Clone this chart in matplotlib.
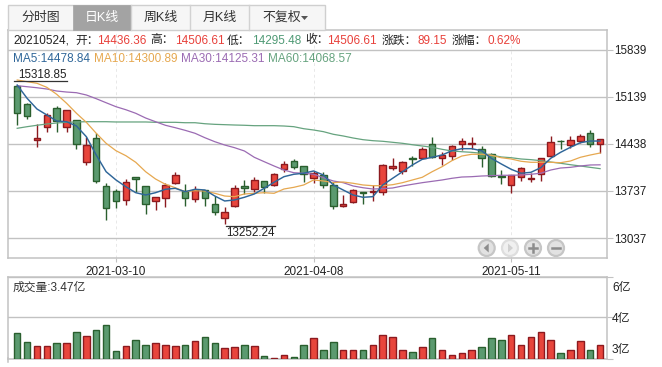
import matplotlib
matplotlib.use("Agg")
import matplotlib.pyplot as plt
from matplotlib.patches import Circle, Rectangle, Polygon

plt.rcParams['font.family'] = ['Liberation Sans', 'Noto Sans CJK SC', 'DejaVu Sans']

opens = [15297,15025,14499,14683,14965,14683,14787,14163,14519,13806,13732,13598,13940,13806,13583,13628,
         13860,13741,13613,13756,13539,13331,13509,13806,13762,13880,13821,14059,14178,14103,13925,13970,
         13821,13509,13568,13717,13726,13717,14074,14029,14222,14222,14430,14222,14252,14430,14439,14356,
         14282,13955,13821,13940,13919,13984,14252,14484,14415,14475,14594,14436.36]
closes = [14891,14846,14524,14861,14777,14936,14430,14415,13881,13479,13583,13866,13910,13539,13643,13821,
          13970,13628,13756,13628,13420,13420,13776,13776,13895,13791,13984,14133,14089,13989,14000,13821,
          13509,13539,13747,13702,13732,14118,14103,14163,14216,14356,14237,14267,14401,14475,14445,14222,
          13955,13940,13970,14074,13925,14222,14460,14479,14490,14549,14430,14506.61]
highs = [15318.85,15044,14727,14900,15000,14940,14791,14534,14594,13851,13762,13910,13940,13806,13652,13851,
         14014,13836,13815,13756,13658,13494,13821,13895,13940,13880,13999,14178,14207,14103,14038,14014,
         13866,13672,13762,13717,13821,14133,14222,14178,14252,14386,14534,14311,14415,14519,14534,14401,
         14297,14044,13975,14088,13999,14222,14549,14494,14549,14579,14638,14506.61]
lows = [14713,14802,14395,14618,14618,14618,14365,14123,13860,13301,13479,13533,13717,13390,13450,13494,
        13836,13518,13568,13509,13384,13252.24,13494,13687,13717,13702,13806,14014,14059,13866,13851,13776,
        13464,13494,13554,13539,13583,13672,14044,13984,14103,14207,14222,14118,14192,14341,14356,14088,
        13940,13836,13702,13880,13866,13880,14237,14356,14371,14445,14386,14295.48]
volumes = [3.61,3.39,3.30,3.30,3.37,3.37,3.63,3.54,3.68,3.82,3.18,3.30,3.44,3.34,3.37,3.32,3.30,3.34,3.42,3.51,3.37,
           3.25,3.27,3.32,3.30,3.06,3.01,3.10,3.03,3.34,3.49,3.20,3.39,3.20,3.20,3.22,3.34,3.58,3.51,3.22,3.15,3.27,3.49,
           3.22,3.10,3.13,3.22,3.27,3.49,3.46,3.56,3.34,3.51,3.63,3.46,3.13,3.22,3.42,3.22,3.32]
ma5 = [15311,15114,14955,14866,14776,14766,14702,14543,14271,14023,13900,13800,13711,13677,13711,13762,
       13776,13726,13762,13751,13662,13588,13603,13643,13692,13776,13866,13949,13985,14000,14034,13974,
       13826,13751,13677,13643,13652,13826,13925,14023,14123,14207,14237,14271,14335,14365,14365,14335,
       14222,14138,14059,14000,14014,14083,14222,14311,14386,14454,14479,14478.84]
ma10 = [15386,15361,15337,15277,15173,15040,14891,14757,14594,14445,14335,14261,14163,14023,13915,13836,
        13785,13726,13741,13736,13702,13662,13652,13692,13702,13711,13702,13766,13791,13826,13900,13885,
        13860,13870,13851,13826,13815,13815,13830,13860,13900,13940,14023,14097,14187,14256,14282,14282,
        14267,14231,14212,14178,14163,14163,14163,14157,14182,14237,14271,14300.89]
ma30 = [15301,15286,15271,15252,15222,15207,15197,15163,15108,15048,14989,14944,14891,14821,14766,14713,
        14677,14638,14594,14528,14469,14420,14380,14331,14237,14172,14108,14048,14008,14000,13985,13934,
        13885,13860,13811,13785,13766,13771,13781,13811,13836,13860,13880,13900,13925,13944,13949,13959,
        13964,13970,13970,13974,13985,14000,14048,14078,14088,14108,14123,14125.31]
ma60 = [14668,14692,14713,14732,14747,14757,14762,14766,14766,14766,14762,14762,14762,14762,14757,14757,
        14757,14751,14751,14736,14727,14722,14717,14713,14707,14707,14707,14702,14692,14662,14643,14618,
        14579,14554,14524,14499,14484,14475,14460,14445,14424,14405,14386,14356,14331,14320,14311,14296,
        14271,14242,14231,14212,14202,14187,14167,14148,14127,14108,14088,14068.57]
price_ticks = [15839, 15139, 14438, 13737, 13037]
date_ticks = [10, 30, 50]
date_labels = ['2021-03-10', '2021-04-08', '2021-05-11']
vol_ticks = [3, 4, 4.96]
vol_labels = ['3亿', '4亿', '6亿']
tabs = ['分时图', '日K线', '周K线', '月K线', '不复权']

W, H = 662, 367
RED, RED_E = '#e8453c', '#8c1a1f'
GRN, GRN_E = '#5b9a6f', '#2a5f2e'
TXT_RED, TXT_GRN = '#e8403a', '#4f9a75'
GRID = '#c2c2c2'
C5, C10, C30, C60 = '#2f6699', '#e6a850', '#9b6bb3', '#66a37f'
DARK = '#222222'

fig = plt.figure(figsize=(W / 100, H / 100), dpi=100)

def axes_px(x0, y0, x1, y1, **kw):
    return fig.add_axes([x0 / W, 1 - y1 / H, (x1 - x0) / W, (y1 - y0) / H], **kw)

ax = axes_px(8, 30, 606.5, 258)
vx = axes_px(8, 277, 606.5, 358.7)
ov = axes_px(0, 0, W, H)
ov.set_xlim(0, W); ov.set_ylim(H, 0); ov.axis('off'); ov.patch.set_alpha(0)

xs = list(range(len(opens)))
face = [RED if c >= o else GRN for o, c in zip(opens, closes)]
edge = [RED_E if c >= o else GRN_E for o, c in zip(opens, closes)]

# price panel
ax.set_xlim(-0.931, 59.65)
ax.set_ylim(12740.7, 16128.8)
ax.set_yticks(price_ticks)
ax.set_xticks(date_ticks, date_labels)
ax.yaxis.tick_right()
ax.grid(axis='y', color=GRID, lw=1, zorder=0)
ax.grid(axis='x', color='#e8e8e8', lw=0.7, ls=(0, (3, 3)), zorder=0)
ax.tick_params(axis='y', length=4, color=GRID, labelsize=8.4, labelcolor=DARK, pad=1.5)
ax.tick_params(axis='x', length=3, color=GRID, labelsize=8.5, labelcolor=DARK, pad=3)
ax.vlines(xs, lows, highs, colors=edge, lw=1, zorder=2)
ax.bar(xs, [abs(c - o) for o, c in zip(opens, closes)], bottom=[min(o, c) for o, c in zip(opens, closes)],
       width=0.66, color=face, edgecolor=edge, linewidth=1, zorder=3)
ax.plot(xs, ma60, color=C60, lw=0.9, zorder=4)
ax.plot(xs, ma30, color=C30, lw=0.9, zorder=4)
ax.plot(xs, ma10, color=C10, lw=0.9, zorder=4)
ax.plot(xs, ma5, color=C5, lw=1.05, zorder=5)

# volume panel
vx.set_xlim(-0.931, 59.65)
vx.set_ylim(3, 4.96)
vx.set_yticks(vol_ticks, [])
vx.yaxis.tick_right()
vx.set_xticks([])
vx.grid(axis='y', color=GRID, lw=1, zorder=0)
vx.tick_params(axis='y', length=4, color=GRID)
vx.bar(xs, [v - 3 for v in volumes], bottom=3, width=0.66, color=face, edgecolor=edge, linewidth=1, zorder=3)

for a in (ax, vx):
    for s in a.spines.values():
        s.set_color(GRID); s.set_linewidth(1.1)
    a.set_axisbelow(True)
ov.plot([8.3, 8.3], [358, 361.5], color=GRID, lw=1.1)

for lab, y in zip(vol_labels, [350, 318.7, 288]):
    ov.text(612, y, lab, fontsize=8.6, color=DARK, va='center')

# tab bar
ov.add_patch(Rectangle((8, 5), 317, 25, fc='#f6f6f6', ec='#cfcfcf', lw=1))
edges = [8, 73, 131, 190, 249, 325]
for i, t in enumerate(tabs):
    if i == 1:
        ov.add_patch(Rectangle((edges[i], 5), edges[i + 1] - edges[i], 25, fc='#a3a3a3', ec='#a3a3a3', lw=0.5))
    elif i > 1:
        ov.plot([edges[i], edges[i]], [5, 30], color='#d2d2d2', lw=1)
    cx = (edges[i] + edges[i + 1]) / 2 - (5 if i == 4 else 0)
    ov.text(cx, 17.5, t, fontsize=9.3, color='white' if i == 1 else '#333333', ha='center', va='center')
ov.add_patch(Polygon([[301, 16], [308, 16], [304.5, 20]], fc='#555555', ec='none'))

# info rows
row1 = [(13, '20210524,', DARK), (75, '开：', DARK), (97, '14436.36', TXT_RED), (150, '高：', DARK),
        (174.7, '14506.61', TXT_RED), (227, '低：', DARK), (252, '14295.48', TXT_GRN), (305, '收：', DARK),
        (327, '14506.61', TXT_RED), (381.7, '涨跌：', DARK), (417, '89.15', TXT_RED),
        (451.7, '涨幅：', DARK), (487, '0.62%', TXT_RED)]
for x, s, c in row1:
    ov.text(x, 40.5, s, fontsize=8.5, color=c, va='center')
row2 = [(13, 'MA5:14478.84', C5), (94, 'MA10:14300.89', C10), (180.7, 'MA30:14125.31', C30), (268, 'MA60:14068.57', C60)]
for x, s, c in row2:
    ov.text(x, 58.5, s, fontsize=8.5, color=c, va='center')
ov.text(13, 287.5, '成交量:3.47亿', fontsize=8.5, color='#333333', va='center')

# extreme labels
ov.text(18, 75.5, '15318.85', fontsize=8.4, color=DARK, va='center')
ov.plot([13.5, 67], [81, 81], color='#333333', lw=0.9)
ov.text(226.5, 233.5, '13252.24', fontsize=8.4, color=DARK, va='center')
ov.plot([226, 275], [226, 226], color='#333333', lw=0.9)

# navigation buttons
for i, cx in enumerate([486.7, 510, 533, 556]):
    rim, fill, ic = ('#dedede', '#f0f0f0', '#d0d0d0') if i == 1 else ('#c6c6c6', '#e2e2e2', '#8c8c8c')
    ov.add_patch(Circle((cx, 248), 8, fc=fill, ec=rim, lw=1.6))
    if i == 0:
        ov.add_patch(Polygon([[cx + 2, 243.5], [cx + 2, 252.5], [cx - 3, 248]], fc=ic, ec='none'))
    elif i == 1:
        ov.add_patch(Polygon([[cx - 2, 243.5], [cx - 2, 252.5], [cx + 3, 248]], fc=ic, ec='none'))
    else:
        ov.plot([cx - 4, cx + 4], [248, 248], color=ic, lw=1.8)
        if i == 2:
            ov.plot([cx, cx], [244, 252], color=ic, lw=1.8)

fig.savefig('out.png', dpi=100, facecolor='white')
